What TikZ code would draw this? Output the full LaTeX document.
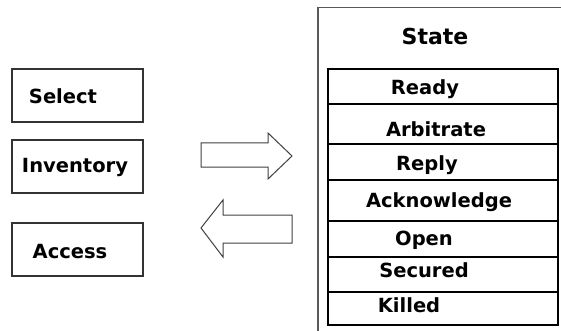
\documentclass[tikz,border=0pt]{standalone}
\usepackage{fontspec}
\setmainfont{DejaVu Sans}
\usetikzlibrary{positioning}

\begin{document}
\begin{tikzpicture}[
    x=1pt, y=-1pt,
    cmdbox/.style={rectangle, draw=black!80, line width=1.3pt, minimum width=131pt, minimum height=53pt, inner sep=0pt},
    lbl/.style={anchor=base, font=\fontsize{19.5}{20}\selectfont\bfseries, inner sep=0pt},
    rowline/.style={draw=black, line width=1.8pt},
    blockarrow/.style={draw=black!75, line width=1pt, line join=miter, fill=white}
]
\useasboundingbox (0,0) rectangle (561,331);

% Command boxes on the left
\node[cmdbox] at (77.5,95.5) (select) {};
\node[lbl] at (63,104) (selectlbl) {Select};
\node[cmdbox] at (77.5,166.5) (inventory) {};
\node[lbl] at (75,172) (inventorylbl) {Inventory};
\node[cmdbox] at (77.5,249.5) (access) {};
\node[lbl] at (70,258) (accesslbl) {Access};

% Block arrows
\draw[blockarrow] (201,143) -- (268,143) -- (268,133) -- (292,156) -- (268,179) -- (268,167) -- (201,167) -- cycle;
\draw[blockarrow] (292,215) -- (223,215) -- (223,200) -- (201,228) -- (223,257) -- (223,243) -- (292,243) -- cycle;

% State panel
\draw[draw=black!65, line width=1.2pt] (318,331) -- (318,7.5) -- (561,7.5);
\node[lbl, font=\fontsize{22}{24}\selectfont\bfseries] at (435,45) (state) {State};

% State rows
\foreach \top/\bot/\x/\base/\name in {69/104/425/95/Ready, 104/144/436/137/Arbitrate, 144/180/427/170/Reply, 180/221/439/207/Acknowledge, 221/257/424/245/Open, 257/292/424/277/Secured, 292/325/409/312/Killed} {
    \draw[rowline] (328,\top) rectangle (558,\bot);
    \node[lbl] at (\x,\base) (row\name) {\name};
}
\draw[line width=2.6pt] (558,68) -- (558,326);

\end{tikzpicture}
\end{document}
